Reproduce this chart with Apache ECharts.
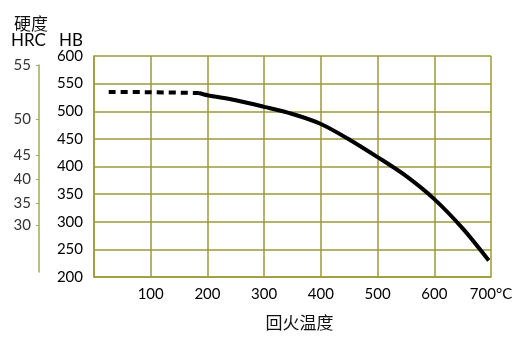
<!DOCTYPE html>
<html><head><meta charset="utf-8">
<script src="https://cdn.jsdelivr.net/npm/echarts@6/dist/echarts.min.js"></script>
<style>html,body{margin:0;padding:0;background:#fff}#c{width:530px;height:340px}</style>
</head><body><div id="c"></div>
<script>
// Tempering temperature (°C) and hardness (HB)
const dashedTemp = [26, 100, 185];
const dashedHB = [535, 534.5, 533];
const solidTemp = [185, 200, 250, 300, 350, 400, 450, 500, 550, 600, 650, 696];
const solidHB = [533, 529, 520, 508, 495, 477, 449, 417, 383, 341, 288, 230];
// HRC scale: labels and their HB-equivalent positions
const hrcLabels = [55, 50, 45, 40, 35, 30];
const hrcAtHB = [583.7, 485.9, 420.7, 377.2, 333.7, 293.8];
const hrcAxisRange = [208.7, 583.7];
const xTicks = [0, 700, 100];
const hbTicks = [200, 600, 50];

const olive = '#9c9a3a';
const font = 'Lato, "Open Sans", sans-serif';
const cjk = '"Noto Sans CJK SC", sans-serif';

const chart = echarts.init(document.getElementById('c'), null, {renderer: 'canvas'});
chart.setOption({
  animation: false,
  backgroundColor: '#fff',
  title: [
    {text: '硬度', left: 9, top: 10, textStyle: {fontFamily: cjk, fontSize: 17, fontWeight: 'normal', color: '#111'}},
    {text: 'HRC', left: 6, top: 27, textStyle: {fontFamily: font, fontSize: 17, fontWeight: 'normal', color: '#000'}},
    {text: 'HB', left: 54, top: 27, textStyle: {fontFamily: font, fontSize: 17, fontWeight: 'normal', color: '#000'}}
  ],
  grid: [
    {left: 94, right: 39, top: 56, bottom: 63},
    {left: 39, top: 65, height: 207, width: 1}
  ],
  xAxis: [
    {type: 'value', gridIndex: 0, min: xTicks[0], max: xTicks[1], interval: xTicks[2],
     axisLine: {show: true, lineStyle: {color: olive, width: 1.5}},
     axisTick: {show: false},
     splitLine: {show: true, lineStyle: {color: olive, width: 1.5}},
     axisLabel: {showMinLabel: false, margin: 10, fontFamily: font, fontSize: 15, color: '#000',
       formatter: v => v === 700 ? '700°C' : String(v)},
     name: '回火温度', nameLocation: 'middle', nameGap: 37,
     nameTextStyle: {fontFamily: cjk, fontSize: 17, color: '#111', padding: [0, 0, 0, 14]}},
    {type: 'value', gridIndex: 1, show: false}
  ],
  yAxis: [
    {type: 'value', gridIndex: 0, min: hbTicks[0], max: hbTicks[1], interval: hbTicks[2],
     axisLine: {show: true, lineStyle: {color: olive, width: 1.5}},
     axisTick: {show: false},
     splitLine: {show: true, lineStyle: {color: olive, width: 1.5}},
     axisLabel: {margin: 11, fontFamily: font, fontSize: 15, color: '#000'}},
    {type: 'value', gridIndex: 1, min: hrcAxisRange[0], max: hrcAxisRange[1],
     axisLine: {show: true, lineStyle: {color: '#a6a853', width: 1.5}},
     axisTick: {show: true, length: 3, customValues: hrcAtHB, lineStyle: {color: '#a6a853'}},
     splitLine: {show: false},
     axisLabel: {show: true, margin: 8, customValues: hrcAtHB, fontFamily: font, fontSize: 15, color: '#333',
       formatter: v => {
         for (let i = 0; i < hrcAtHB.length; i++) if (Math.abs(hrcAtHB[i] - v) < 0.01) return String(hrcLabels[i]);
         return '';
       }}}
  ],
  series: [
    {type: 'line', xAxisIndex: 0, yAxisIndex: 0, symbol: 'none', smooth: 0.3,
     data: dashedTemp.map((t, i) => [t, dashedHB[i]]),
     lineStyle: {color: '#000', width: 4, type: [7, 5]}},
    {type: 'line', xAxisIndex: 0, yAxisIndex: 0, symbol: 'none', smooth: 0.3,
     data: solidTemp.map((t, i) => [t, solidHB[i]]),
     lineStyle: {color: '#000', width: 4}}
  ]
});
</script></body></html>
